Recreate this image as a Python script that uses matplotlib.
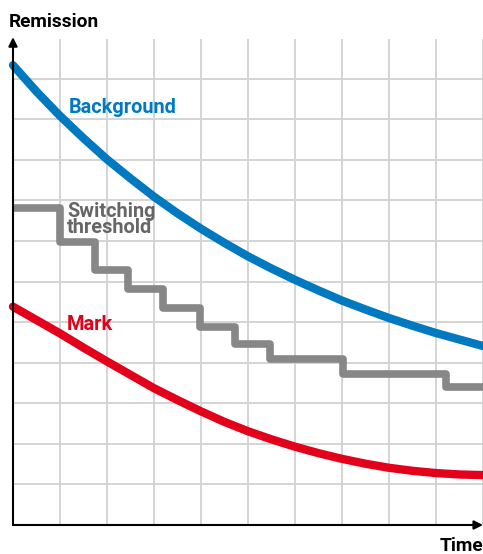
import matplotlib
matplotlib.use("Agg")
import matplotlib.pyplot as plt

# Data (grid units: x 0..10, y 0..12)
x_curve = [0, 0.5, 1, 1.5, 2, 2.5, 3, 3.5, 4, 4.5, 5, 5.5, 6, 6.5, 7, 7.5, 8, 8.5, 9, 9.5, 10]
background = [11.33, 10.68, 10.08, 9.53, 9.01, 8.54, 8.09, 7.68, 7.30, 6.95, 6.62,
              6.32, 6.04, 5.78, 5.53, 5.31, 5.10, 4.91, 4.73, 4.57, 4.41]
mark = [5.38, 5.05, 4.72, 4.37, 4.03, 3.70, 3.37, 3.08, 2.80, 2.54, 2.31,
        2.11, 1.93, 1.77, 1.63, 1.51, 1.41, 1.335, 1.28, 1.245, 1.23]

# Switching threshold: step edges and levels
step_x = [0, 1.0, 1.75, 2.45, 3.2, 3.98, 4.72, 5.47, 7.02, 9.21, 10]
step_y = [7.81, 6.97, 6.28, 5.81, 5.34, 4.88, 4.46, 4.09, 3.72, 3.40]

threshold_label = "Switching\nthreshold"
axis_labels = ["Remission", "Time"]

BLUE = "#0079C1"
RED = "#E2001A"
GRAY = "#878787"
GRAY_TXT = "#666666"
GRID = "#d4d4d4"

W, H = 483, 554
fig = plt.figure(figsize=(W / 100, H / 100), dpi=100)
left, right = 13 / W, 483 / W
bottom, top = (H - 525) / H, (H - 38) / H
ax = fig.add_axes([left, bottom, right - left, top - bottom])
ax.set_xlim(0, 10)
ax.set_ylim(0, 12)
for s in ax.spines.values():
    s.set_visible(False)
ax.set_xticks([])
ax.set_yticks([])

# grid
for gx in range(1, 11):
    ax.plot([gx, gx], [0, 11.95], color=GRID, lw=1.4, zorder=1, clip_on=False)
for gy in range(1, 12):
    ax.plot([0, 10], [gy, gy], color=GRID, lw=1.4, zorder=1, clip_on=False)

# series
ax.plot(x_curve, background, color=BLUE, lw=6.0, solid_capstyle="round",
        solid_joinstyle="round", zorder=3, clip_on=False)
ax.plot(x_curve, mark, color=RED, lw=6.0, solid_capstyle="round",
        solid_joinstyle="round", zorder=3, clip_on=False)
ax.stairs(step_y, step_x, color=GRAY, lw=5.5, zorder=3, clip_on=False,
          baseline=None)
for ln in ax.patches:
    ln.set_joinstyle("round")
    ln.set_capstyle("butt")

# axes with arrows
ax.annotate("", xy=(0, 12.02), xytext=(0, 0),
            arrowprops=dict(arrowstyle="-|>", color="black", lw=1.5,
                            mutation_scale=13, shrinkA=0, shrinkB=0),
            annotation_clip=False, zorder=5)
ax.annotate("", xy=(10.0, 0), xytext=(0, 0),
            arrowprops=dict(arrowstyle="-|>", color="black", lw=1.5,
                            mutation_scale=13, shrinkA=0, shrinkB=0),
            annotation_clip=False, zorder=5)

font = "Roboto"
fs = 14.4
fw = "bold"
ax.text(1.19, 10.15, "Background", color=BLUE, fontsize=fs,
        fontweight=fw, family=font, va="baseline", ha="left")
ax.text(1.15, 7.52, threshold_label, color=GRAY_TXT, fontsize=fs,
        fontweight=fw, family=font, va="center", ha="left", linespacing=0.8)
ax.text(1.15, 4.80, "Mark", color=RED, fontsize=fs,
        fontweight=fw, family=font, va="baseline", ha="left")

fig.text(9 / W, 1 - 27 / H, axis_labels[0], fontsize=13.8, fontweight=fw,
         family=font, va="baseline", ha="left", color="black")
fig.text(483 / W, 1 - 551 / H, axis_labels[1], fontsize=13.8, fontweight=fw,
         family=font, va="baseline", ha="right", color="black")

fig.savefig("out.png", dpi=100)
